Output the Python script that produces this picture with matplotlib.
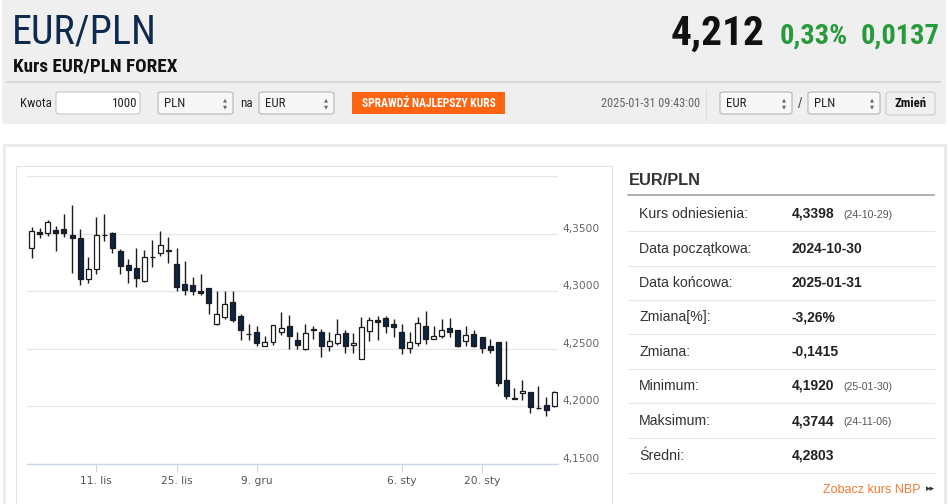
import matplotlib
matplotlib.use("Agg")
import matplotlib.pyplot as plt
from matplotlib import font_manager
from matplotlib.patches import Rectangle, FancyBboxPatch
from matplotlib.lines import Line2D

# EUR/PLN daily candles (trading days)
dates = ["2024-10-30", "2024-10-31", "2024-11-01", "2024-11-04", "2024-11-05", "2024-11-06",
         "2024-11-07", "2024-11-08", "2024-11-11", "2024-11-12", "2024-11-13", "2024-11-14",
         "2024-11-15", "2024-11-18", "2024-11-19", "2024-11-20", "2024-11-21", "2024-11-22",
         "2024-11-25", "2024-11-26", "2024-11-27", "2024-11-28", "2024-11-29", "2024-12-02",
         "2024-12-03", "2024-12-04", "2024-12-05", "2024-12-06", "2024-12-09", "2024-12-10",
         "2024-12-11", "2024-12-12", "2024-12-13", "2024-12-16", "2024-12-17", "2024-12-18",
         "2024-12-19", "2024-12-20", "2024-12-23", "2024-12-24", "2024-12-26", "2024-12-27",
         "2024-12-30", "2024-12-31", "2025-01-02", "2025-01-03", "2025-01-06", "2025-01-07",
         "2025-01-08", "2025-01-09", "2025-01-10", "2025-01-13", "2025-01-14", "2025-01-15",
         "2025-01-16", "2025-01-17", "2025-01-20", "2025-01-21", "2025-01-22", "2025-01-23",
         "2025-01-24", "2025-01-27", "2025-01-28", "2025-01-29", "2025-01-30", "2025-01-31"]
opens = [4.3378, 4.3517, 4.3509, 4.3535, 4.3537, 4.3485, 4.3465, 4.3102, 4.3189, 4.3490,
         4.3503, 4.3348, 4.3224, 4.3204, 4.3087, 4.3300, 4.3328, 4.3361, 4.3233, 4.3065,
         4.3058, 4.3000, 4.3024, 4.2716, 4.2774, 4.2908, 4.2782, 4.2632, 4.2646, 4.2527,
         4.2559, 4.2643, 4.2695, 4.2573, 4.2498, 4.2673, 4.2646, 4.2527, 4.2551, 4.2638,
         4.2533, 4.2411, 4.2652, 4.2747, 4.2768, 4.2719, 4.2646, 4.2507, 4.2551, 4.2701,
         4.2585, 4.2614, 4.2681, 4.2660, 4.2564, 4.2629, 4.2603, 4.2521, 4.2556, 4.2231,
         4.2072, 4.2115, 4.2129, 4.1987, 4.2013, 4.2000]
highs = [4.3561, 4.3552, 4.3618, 4.3566, 4.3668, 4.3744, 4.3537, 4.3300, 4.3648, 4.3668,
         4.3510, 4.3369, 4.3282, 4.3372, 4.3355, 4.3442, 4.3523, 4.3474, 4.3372, 4.3261,
         4.3122, 4.3152, 4.3030, 4.3000, 4.3000, 4.3000, 4.2806, 4.2719, 4.2701, 4.2608,
         4.2704, 4.2821, 4.2791, 4.2646, 4.2719, 4.2695, 4.2672, 4.2643, 4.2762, 4.2666,
         4.2638, 4.2777, 4.2777, 4.2788, 4.2788, 4.2762, 4.2719, 4.2646, 4.2777, 4.2826,
         4.2695, 4.2759, 4.2768, 4.2660, 4.2701, 4.2666, 4.2603, 4.2585, 4.2556, 4.2564,
         4.2159, 4.2231, 4.2129, 4.2173, 4.2085, 4.2138]
lows = [4.3291, 4.3465, 4.3479, 4.3348, 4.3474, 4.3160, 4.3058, 4.3073, 4.3145, 4.3436,
        4.3334, 4.3145, 4.3073, 4.3038, 4.3082, 4.3209, 4.3305, 4.3241, 4.3006, 4.2965,
        4.2965, 4.2971, 4.2803, 4.2710, 4.2762, 4.2733, 4.2573, 4.2573, 4.2521, 4.2521,
        4.2536, 4.2623, 4.2498, 4.2501, 4.2492, 4.2585, 4.2429, 4.2477, 4.2536, 4.2463,
        4.2463, 4.2411, 4.2565, 4.2573, 4.2638, 4.2603, 4.2457, 4.2463, 4.2521, 4.2544,
        4.2585, 4.2594, 4.2603, 4.2516, 4.2521, 4.2516, 4.2463, 4.2463, 4.2179, 4.2063,
        4.2066, 4.2057, 4.1941, 4.1978, 4.1920, 4.1993]
closes = [4.3523, 4.3497, 4.3601, 4.3509, 4.3509, 4.3459, 4.3102, 4.3195, 4.3485, 4.3485,
          4.3372, 4.3218, 4.3180, 4.3117, 4.3300, 4.3297, 4.3398, 4.3352, 4.3035, 4.3012,
          4.3000, 4.2986, 4.2895, 4.2803, 4.2893, 4.2754, 4.2666, 4.2626, 4.2551, 4.2559,
          4.2704, 4.2682, 4.2614, 4.2530, 4.2638, 4.2666, 4.2527, 4.2571, 4.2632, 4.2521,
          4.2551, 4.2690, 4.2747, 4.2736, 4.2695, 4.2690, 4.2507, 4.2556, 4.2725, 4.2585,
          4.2614, 4.2666, 4.2646, 4.2521, 4.2623, 4.2521, 4.2507, 4.2492, 4.2207, 4.2091,
          4.2066, 4.2138, 4.1993, 4.1982, 4.1970, 4.2122]

xtick_dates = ["2024-11-11", "2024-11-25", "2024-12-09", "2025-01-06", "2025-01-20"]
xtick_labels = ["11. lis", "25. lis", "9. gru", "6. sty", "20. sty"]
ytick_values = [4.15, 4.20, 4.25, 4.30, 4.35, 4.40]
ytick_labels = ["4,1500", "4,2000", "4,2500", "4,3000", "4,3500", ""]

stat_labels = ["Kurs odniesienia:", "Data początkowa:", "Data końcowa:", "Zmiana[%]:",
               "Zmiana:", "Minimum:", "Maksimum:", "Średni:"]
stat_values = ["4,3398", "2024-10-30", "2025-01-31", "-3,26%", "-0,1415", "4,1920", "4,3744", "4,2803"]
stat_notes = ["(24-10-29)", "", "", "", "", "(25-01-30)", "(24-11-06)", ""]

W, H = 948, 504
ARIAL = ["Liberation Sans", "DejaVu Sans"]

# a condensed face for the header if one is installed, else shrink Liberation Sans
installed = {f.name for f in font_manager.fontManager.ttflist}
NARROW, K = ["Liberation Sans", "DejaVu Sans"], 0.83
for name, k in [("Liberation Sans Narrow", 1.0), ("Roboto Condensed", 0.93),
                ("DejaVu Sans Condensed", 0.86)]:
    if name in installed:
        NARROW, K = [name, "DejaVu Sans"], k
        break

fig = plt.figure(figsize=(W / 100, H / 100), dpi=100)
fig.patch.set_facecolor("white")


def fx(x):
    return x / W


def fy(y):
    return 1 - y / H


def box(x0, y0, x1, y1, fc, ec="none", lw=0, z=-5, rounded=False):
    if rounded:
        p = FancyBboxPatch((fx(x0), fy(y1)), (x1 - x0) / W, (y1 - y0) / H,
                           boxstyle="round,pad=0,rounding_size=0.004", transform=fig.transFigure,
                           facecolor=fc, edgecolor=ec, linewidth=lw, zorder=z)
    else:
        p = Rectangle((fx(x0), fy(y1)), (x1 - x0) / W, (y1 - y0) / H, transform=fig.transFigure,
                      facecolor=fc, edgecolor=ec, linewidth=lw, zorder=z)
    fig.patches.append(p)


def hline(x0, x1, y, color, lw=0.8, z=-3):
    fig.lines.append(Line2D([fx(x0), fx(x1)], [fy(y), fy(y)], transform=fig.transFigure,
                            color=color, linewidth=lw, zorder=z))


def vline(x, y0, y1, color, lw=0.8, z=-3):
    fig.lines.append(Line2D([fx(x), fx(x)], [fy(y0), fy(y1)], transform=fig.transFigure,
                            color=color, linewidth=lw, zorder=z))


def txt(x, y, s, **kw):
    fig.text(fx(x), fy(y), s, **kw)


def ntxt(x, y, s, size, **kw):
    fig.text(fx(x), fy(y), s, fontsize=size * K, family=NARROW, **kw)


def select(x0, x1, label):
    box(x0, 92, x1, 114, "#f7f7f7", "#b5b5b5", 0.8, z=-2, rounded=True)
    ntxt(x0 + 6, 103.5, label, 10, color="#222222", va="center")
    txt(x1 - 8, 100, "▲", fontsize=3.8, color="#666666", ha="center", va="center")
    txt(x1 - 8, 106.5, "▼", fontsize=3.8, color="#666666", ha="center", va="center")


# ---- header ----
box(2, 0, 946, 124, "#efefef")
ntxt(12, 44, "EUR/PLN", 31, color="#0e2a4f", va="baseline")
ntxt(13, 72, "Kurs EUR/PLN FOREX", 14.8, weight="bold", color="#111111", va="baseline")
ntxt(764, 45, "4,212", 32, weight="bold", color="#111111", va="baseline", ha="right")
ntxt(780, 44, "0,33%", 22, weight="bold", color="#279a3c", va="baseline")
ntxt(940, 44, "0,0137", 22, weight="bold", color="#279a3c", va="baseline", ha="right")
hline(7, 940, 82, "#d9d9d9", lw=1.5)

ntxt(20, 103.5, "Kwota", 10, color="#222222", va="center")
box(56, 92, 140, 114, "white", "#c4c4c4", 0.8, z=-2, rounded=True)
ntxt(137, 103.5, "1000", 10, color="#222222", va="center", ha="right")
select(158, 233, "PLN")
ntxt(240, 103.5, "na", 10, color="#222222", va="center")
select(259, 334, "EUR")
box(352, 92, 505, 114, "#fd6512", z=-2)
ntxt(428.5, 103.5, "SPRAWDŹ NAJLEPSZY KURS", 9, weight="bold", color="white", va="center", ha="center")
ntxt(700, 104, "2025-01-31 09:43:00", 9.5, color="#666666", va="center", ha="right")
vline(706, 90, 120, "#dddddd")
select(720, 792, "EUR")
txt(800, 104, "/", fontsize=11, family=ARIAL, color="#555555", va="center", ha="center")
select(808, 880, "PLN")
box(886, 92, 935, 115, "#f0f0f0", "#cccccc", 0.8, z=-2, rounded=True)
ntxt(910.5, 104, "Zmień", 10, weight="bold", color="#111111", va="center", ha="center")

# ---- panel ----
box(3.5, 144.5, 944.5, 515, "white", "#ebebeb", 2.2, z=-6)
box(16, 166, 612, 515, "white", "#e3e3e3", 0.8, z=-5)

# ---- candlestick chart ----
ax = fig.add_axes([fx(27), fy(464), (558 - 27) / W, (464 - 176) / H])
ax.set_facecolor("white")
xs = list(range(len(dates)))
up_fill, down_fill, edge = "white", "#0d2444", "#1b1b1b"
for i in xs:
    o, h, l, c = opens[i], highs[i], lows[i], closes[i]
    ax.vlines(i, l, h, color=edge, linewidth=1.0, zorder=3)
    bottom = min(o, c)
    height = max(abs(c - o), 0.0002)
    ax.bar(i, height, bottom=bottom, width=0.62, color=up_fill if c >= o else down_fill,
           edgecolor=edge, linewidth=0.9, zorder=4)

ax.set_xlim(-0.6, len(dates) - 0.55)
ax.set_ylim(4.15, 4.40)
ax.set_yticks(ytick_values)
ax.set_yticklabels(ytick_labels)
ax.yaxis.tick_right()
ax.tick_params(axis="y", length=0, pad=3, labelsize=7.7, labelcolor="#666666")
for t in ax.get_yticklabels():
    t.set_va("bottom")
ax.grid(axis="y", color="#e6e6e6", linewidth=0.9)
ax.set_axisbelow(True)
ax.set_xticks([dates.index(d) for d in xtick_dates])
ax.set_xticklabels(xtick_labels)
ax.tick_params(axis="x", length=6, width=0.8, color="#ccd6eb", pad=3, labelsize=7.7, labelcolor="#555555")
for side in ["top", "left", "right"]:
    ax.spines[side].set_visible(False)
ax.spines["bottom"].set_color("#ccd6eb")
ax.spines["bottom"].set_linewidth(1.0)

# ---- summary table ----
txt(629, 185, "EUR/PLN", fontsize=11.8, family=ARIAL, weight="bold", color="#333333", va="baseline")
hline(628, 934, 195, "#9a9a9a", lw=1.1)
row_y = [213, 248, 282, 316, 351, 385, 420, 455]
for i, lab in enumerate(stat_labels):
    yb = row_y[i] + 5
    txt(639, yb, lab, fontsize=10.2, family=ARIAL, color="#333333", va="baseline")
    txt(792, yb, stat_values[i], fontsize=10, family=ARIAL, weight="bold", color="#222222", va="baseline")
    if stat_notes[i]:
        txt(843, yb, stat_notes[i], fontsize=7.6, family=ARIAL, color="#555555", va="baseline")
    hline(628, 934, row_y[i] + 18, "#e6e6e6", lw=0.8)
txt(921, 493, "Zobacz kurs NBP", fontsize=9, family=ARIAL, color="#f47a30", va="baseline", ha="right")
txt(930, 489, "▸▸", fontsize=6.5, color="#333333", va="center", ha="center")

fig.savefig("out.png", dpi=100)
